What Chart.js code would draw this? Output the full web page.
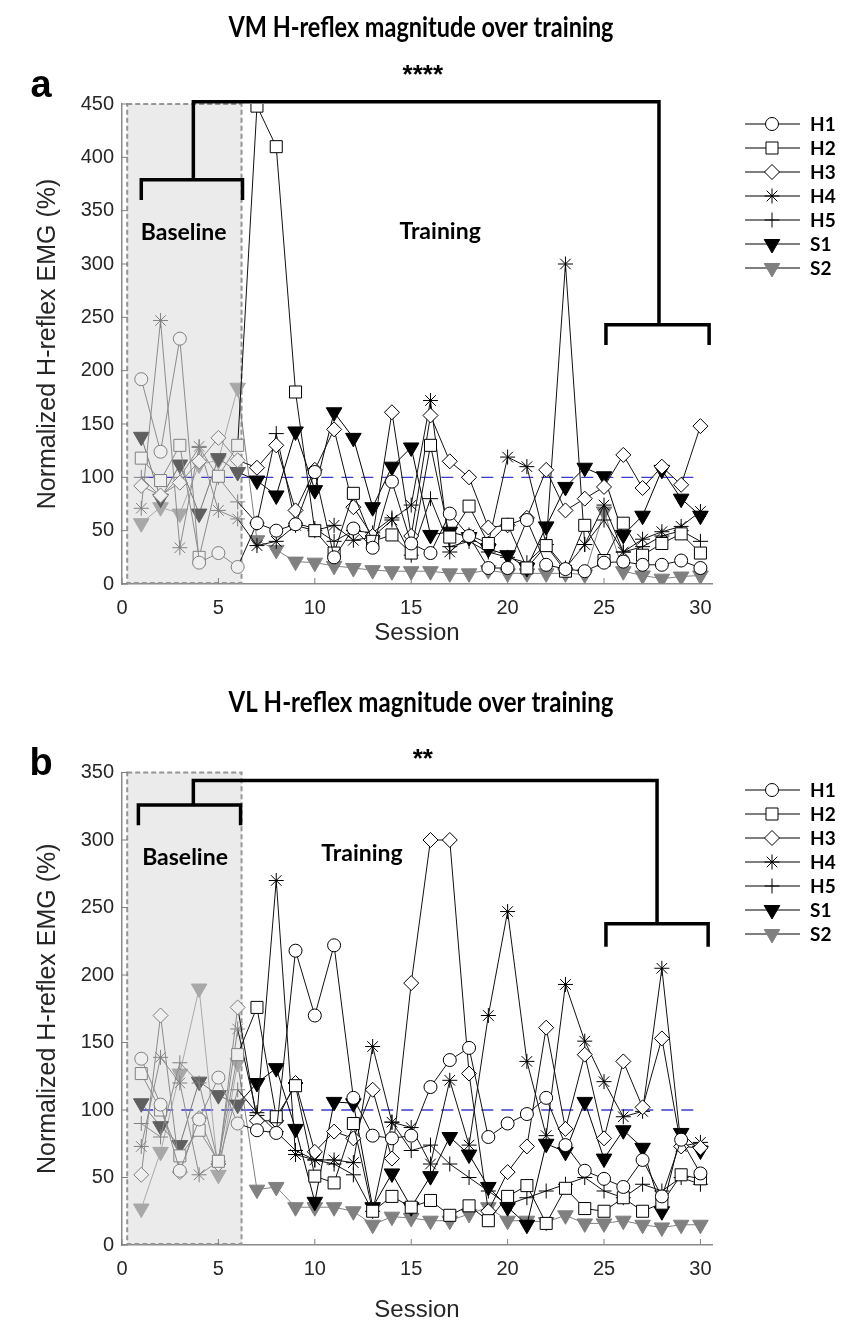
<!DOCTYPE html>
<html>
<head>
<meta charset="utf-8">
<title>H-reflex magnitude over training</title>
<script src="https://cdn.jsdelivr.net/npm/chart.js@4.4.0/dist/chart.umd.min.js"></script>
<style>
  body { margin: 0; background: #fff; }
  .panel { position: absolute; left: 0; width: 842px; }
  #panelA { top: 0; height: 660px; }
  #panelB { top: 670px; height: 663px; }
</style>
</head>
<body>
<div class="panel" id="panelA"><canvas id="chartA"></canvas></div>
<div class="panel" id="panelB"><canvas id="chartB"></canvas></div>
<script>
// sessions 1-6 are baseline, 7-30 training
const sessions = [1, 2, 3, 4, 5, 6, 7, 8, 9, 10, 11, 12, 13, 14, 15, 16, 17, 18, 19, 20, 21, 22, 23, 24, 25, 26, 27, 28, 29, 30];
const baselineEnd = 6;
const referenceLevel = 100;
const seriesLabels = ['H1', 'H2', 'H3', 'H4', 'H5', 'S1', 'S2'];
const xTickStep = 5;

// VM (panel a), normalized H-reflex EMG (%)
const vmH1 = [192, 124, 230, 20, 29, 16, 57, 50, 56, 105, 25, 52, 34, 96, 38, 29, 66, 45, 15, 15, 60, 18, 14, 12, 20, 21, 18, 18, 22, 15];
const vmH2 = [118, 97, 130, 25, 101, 130, 448, 410, 180, 50, 29, 85, 40, 46, 29, 130, 44, 73, 38, 56, 15, 36, 12, 55, 22, 57, 27, 38, 47, 29];
const vmH3 = [92, 83, 95, 115, 137, 116, 109, 130, 69, 107, 145, 72, 45, 161, 45, 158, 115, 100, 53, 55, 62, 107, 69, 80, 91, 121, 90, 110, 93, 148];
const vmH4 = [71, 247, 34, 129, 69, 61, 36, 40, 55, 50, 55, 41, 44, 60, 74, 172, 30, 46, 38, 119, 110, 37, 300, 37, 74, 30, 42, 49, 54, 68];
const vmH5 = [100, 82, 100, 128, 100, 77, 57, 141, 57, 52, 40, 50, 48, 62, 27, 80, 35, 40, 30, 25, 20, 37, 15, 37, 60, 30, 35, 45, 50, 40];
const vmS1 = [138, 80, 112, 66, 118, 105, 97, 83, 143, 88, 161, 137, 72, 110, 128, 46, 49, 44, 33, 27, 15, 54, 91, 109, 101, 46, 64, 107, 80, 64];
const vmS2 = [57, 72, 66, 112, 116, 184, 41, 32, 21, 20, 17, 15, 13, 12, 12, 12, 10, 10, 13, 10, 10, 10, 10, 9, 68, 12, 8, 5, 7, 8];

// VL (panel b)
const vlH1 = [138, 104, 55, 93, 124, 90, 85, 83, 218, 170, 222, 109, 81, 79, 81, 117, 137, 146, 80, 90, 97, 109, 74, 55, 49, 43, 63, 36, 78, 53];
const vlH2 = [127, 100, 66, 85, 62, 141, 176, 95, 118, 51, 46, 90, 25, 36, 28, 33, 22, 29, 18, 36, 44, 16, 42, 27, 25, 35, 25, 31, 52, 49];
const vlH3 = [52, 170, 54, 94, 60, 176, 92, 92, 120, 69, 84, 79, 115, 64, 194, 300, 300, 127, 25, 54, 73, 161, 86, 141, 79, 136, 102, 153, 73, 72];
const vlH4 = [73, 139, 120, 52, 62, 160, 96, 270, 67, 63, 63, 61, 147, 91, 87, 60, 122, 74, 170, 247, 136, 81, 193, 151, 121, 95, 99, 205, 73, 76];
const vlH5 = [90, 80, 135, 120, 60, 115, 98, 84, 70, 63, 60, 52, 25, 91, 70, 74, 60, 50, 40, 30, 35, 40, 45, 50, 40, 35, 45, 40, 50, 45];
const vlS1 = [105, 88, 74, 121, 111, 104, 120, 131, 86, 32, 106, 105, 28, 53, 28, 51, 80, 67, 43, 28, 15, 75, 69, 106, 64, 85, 72, 25, 83, 70];
const vlS2 = [27, 69, 127, 190, 52, 135, 41, 43, 28, 28, 28, 25, 15, 21, 20, 18, 18, 23, 28, 18, 18, 17, 22, 16, 16, 18, 15, 13, 15, 15];

const markerStyles = {
  H1: { pointStyle: 'circle', radius: 6.5, rotation: 0 },
  H2: { pointStyle: 'rect', radius: 8.5, rotation: 0 },
  H3: { pointStyle: 'rectRot', radius: 7.5, rotation: 0 },
  H4: { pointStyle: 'star', radius: 7.5, rotation: 0 },
  H5: { pointStyle: 'cross', radius: 7.5, rotation: 0 },
  S1: { pointStyle: 'triangle', radius: 9, rotation: 180 },
  S2: { pointStyle: 'triangle', radius: 9, rotation: 180 }
};

const hollow = { line: '#111', lineBase: '#8c8c8c', mark: '#000', markBase: '#808080', fill: '#fff', fillBase: '#efefef' };
const palette = {
  H1: hollow, H2: hollow, H3: hollow, H4: hollow, H5: hollow,
  S1: { line: '#000', lineBase: '#777', mark: '#000', markBase: '#5f5f5f', fill: '#000', fillBase: '#5f5f5f' },
  S2: { line: '#808080', lineBase: '#aaa', mark: '#808080', markBase: '#a8a8a8', fill: '#808080', fillBase: '#a8a8a8' }
};

function isBase(ctx) {
  return ctx.raw && ctx.raw.x <= baselineEnd;
}

function buildDatasets(values) {
  const datasets = seriesLabels.map((name, i) => {
    const m = markerStyles[name];
    const c = palette[name];
    return {
      label: name,
      data: sessions.map((s, k) => ({ x: s, y: values[i][k] })),
      borderWidth: 1,
      borderColor: c.line,
      segment: {
        borderColor: ctx => ctx.p1.parsed.x <= baselineEnd ? c.lineBase : c.line
      },
      pointStyle: m.pointStyle,
      pointRadius: m.radius,
      pointRotation: m.rotation,
      pointBorderWidth: 1,
      pointBackgroundColor: ctx => isBase(ctx) ? c.fillBase : c.fill,
      pointBorderColor: ctx => isBase(ctx) ? c.markBase : c.mark,
      tension: 0,
      fill: false
    };
  });
  // dashed 100% reference line, drawn underneath everything
  datasets.push({
    label: 'reference',
    data: [{ x: sessions[0], y: referenceLevel }, { x: sessions[sessions.length - 1], y: referenceLevel }],
    borderColor: 'rgba(40,40,200,0.9)',
    borderDash: [12, 8],
    borderWidth: 1.3,
    pointRadius: 0
  });
  return datasets;
}

// brackets, labels, legend, title drawn on top of the chart
function panelDecor(info) {
  return {
    id: 'panelDecor',
    beforeDatasetsDraw(chart) {
      const { ctx, chartArea } = chart;
      const xs = chart.scales.x;
      const x0 = xs.getPixelForValue(info.box[0]);
      const x1 = xs.getPixelForValue(info.box[1]);
      ctx.save();
      ctx.fillStyle = '#ebebeb';
      ctx.fillRect(x0, chartArea.top, x1 - x0, chartArea.bottom - chartArea.top - 1);
      ctx.setLineDash([5, 3]);
      ctx.strokeStyle = '#959595';
      ctx.lineWidth = 2;
      ctx.strokeRect(x0, chartArea.top, x1 - x0, chartArea.bottom - chartArea.top - 1);
      ctx.restore();
    },
    afterDatasetsDraw(chart) {
      const { ctx, chartArea } = chart;
      const xs = chart.scales.x, ys = chart.scales.y;
      const px = v => xs.getPixelForValue(v);
      const py = v => ys.getPixelForValue(v);
      ctx.save();

      // inward ticks
      ctx.strokeStyle = '#808080';
      ctx.lineWidth = 1;
      xs.ticks.forEach(t => {
        ctx.beginPath();
        ctx.moveTo(px(t.value), chartArea.bottom);
        ctx.lineTo(px(t.value), chartArea.bottom - 6);
        ctx.stroke();
      });
      ys.ticks.forEach(t => {
        ctx.beginPath();
        ctx.moveTo(chartArea.left, py(t.value));
        ctx.lineTo(chartArea.left + 6, py(t.value));
        ctx.stroke();
      });

      // significance brackets
      const b = info.brackets;
      ctx.strokeStyle = '#000';
      ctx.lineWidth = 3.5;
      ctx.lineJoin = 'miter';
      const poly = pts => {
        ctx.beginPath();
        pts.forEach(([vx, vy], i) => i ? ctx.lineTo(px(vx), py(vy)) : ctx.moveTo(px(vx), py(vy)));
        ctx.stroke();
      };
      poly([[b.baseX[0], b.baseLeg], [b.baseX[0], b.baseBar], [b.baseX[1], b.baseBar], [b.baseX[1], b.baseLeg]]);
      poly([[b.stemX, b.baseBar], [b.stemX, b.top], [b.rightX, b.top], [b.rightX, b.lateBar]]);
      poly([[b.lateX[0], b.lateLeg], [b.lateX[0], b.lateBar], [b.lateX[1], b.lateBar], [b.lateX[1], b.lateLeg]]);

      ctx.fillStyle = '#000';
      ctx.textAlign = 'center';
      ctx.textBaseline = 'alphabetic';
      ctx.font = 'bold 26px "Liberation Sans"';
      ctx.fillText(info.stars, px(b.starsAt[0]), py(b.starsAt[1]));
      ctx.textBaseline = 'middle';
      ctx.font = 'bold 23px Lato';
      ctx.fillText('Baseline', px(info.baselineText[0]), py(info.baselineText[1]));
      ctx.fillText('Training', px(info.trainingText[0]), py(info.trainingText[1]));

      // panel title and letter
      ctx.font = 'bold 28px Lato';
      ctx.fillText(info.title, 421, info.titleY, 385);
      ctx.font = 'bold 38px "Liberation Sans"';
      ctx.fillText(info.letter, 41, info.letterY);

      // legend: line - marker - line, label on the right
      seriesLabels.forEach((name, i) => {
        const y = info.legendTop + i * 24;
        const m = markerStyles[name];
        const c = palette[name];
        ctx.strokeStyle = '#000';
        ctx.lineWidth = 1;
        ctx.beginPath();
        ctx.moveTo(745, y);
        ctx.lineTo(800, y);
        ctx.stroke();
        ctx.fillStyle = c.fill;
        ctx.strokeStyle = c.mark;
        Chart.helpers.drawPoint(ctx, { pointStyle: m.pointStyle, radius: m.radius, rotation: m.rotation, borderWidth: 1 }, 772, y);
        ctx.fillStyle = '#000';
        ctx.textAlign = 'left';
        ctx.font = 'bold 19px Lato';
        ctx.fillText(name, 810, y + 1);
      });
      ctx.restore();
    }
  };
}

function makeChart(canvasId, values, info) {
  return new Chart(document.getElementById(canvasId), {
    type: 'line',
    data: { datasets: buildDatasets(values) },
    options: {
      responsive: true,
      maintainAspectRatio: false,
      animation: false,
      events: [],
      layout: { padding: { top: info.padTop, right: 130, bottom: 0, left: 0 } },
      plugins: { legend: { display: false }, tooltip: { enabled: false } },
      scales: {
        x: {
          type: 'linear',
          min: 0,
          max: 30.6,
          afterFit: scale => { scale.height = info.xHeight; },
          grid: { display: false, drawTicks: false },
          border: { display: true, color: '#8a8a8a', width: 1.5 },
          ticks: { stepSize: xTickStep, includeBounds: false, padding: 12, color: '#262626', font: { family: 'Liberation Sans', size: 20 } },
          title: { display: true, text: 'Session', color: '#262626', padding: { top: 0, bottom: info.xTitlePad }, font: { family: 'Liberation Sans', size: 24 } }
        },
        y: {
          min: 0,
          max: info.yMax,
          afterFit: scale => { scale.width = 122; },
          grid: { display: false, drawTicks: false },
          border: { display: true, color: '#8a8a8a', width: 1.5 },
          ticks: { stepSize: 50, padding: 8, color: '#262626', font: { family: 'Liberation Sans', size: 20 } },
          title: { display: true, text: 'Normalized H-reflex EMG (%)', color: '#262626', padding: { top: 33, bottom: 0 }, font: { family: 'Liberation Sans', size: 25 } }
        }
      }
    },
    plugins: [panelDecor(info)]
  });
}

makeChart('chartA', [vmH1, vmH2, vmH3, vmH4, vmH5, vmS1, vmS2], {
  yMax: 450, padTop: 104, xHeight: 76, xTitlePad: 12,
  title: 'VM H-reflex magnitude over training', titleY: 28, letter: 'a', letterY: 87,
  legendTop: 124, stars: '****',
  box: [0.27, 6.2],
  brackets: { baseX: [1.0, 6.25], baseBar: 379, baseLeg: 360, stemX: 3.7, top: 452, rightX: 27.85,
              lateX: [25.1, 30.45], lateBar: 243, lateLeg: 224, starsAt: [15.6, 470] },
  baselineText: [3.2, 329], trainingText: [16.5, 330]
});

makeChart('chartB', [vlH1, vlH2, vlH3, vlH4, vlH5, vlS1, vlS2], {
  yMax: 350, padTop: 102.5, xHeight: 88, xTitlePad: 8,
  title: 'VL H-reflex magnitude over training', titleY: 33, letter: 'b', letterY: 95,
  legendTop: 120, stars: '**',
  box: [0.27, 6.2],
  brackets: { baseX: [0.85, 6.15], baseBar: 326, baseLeg: 311, stemX: 3.7, top: 344, rightX: 27.75,
              lateX: [25.1, 30.4], lateBar: 238, lateLeg: 221, starsAt: [15.6, 354] },
  baselineText: [3.27, 287], trainingText: [12.45, 290]
});
</script>
</body>
</html>
